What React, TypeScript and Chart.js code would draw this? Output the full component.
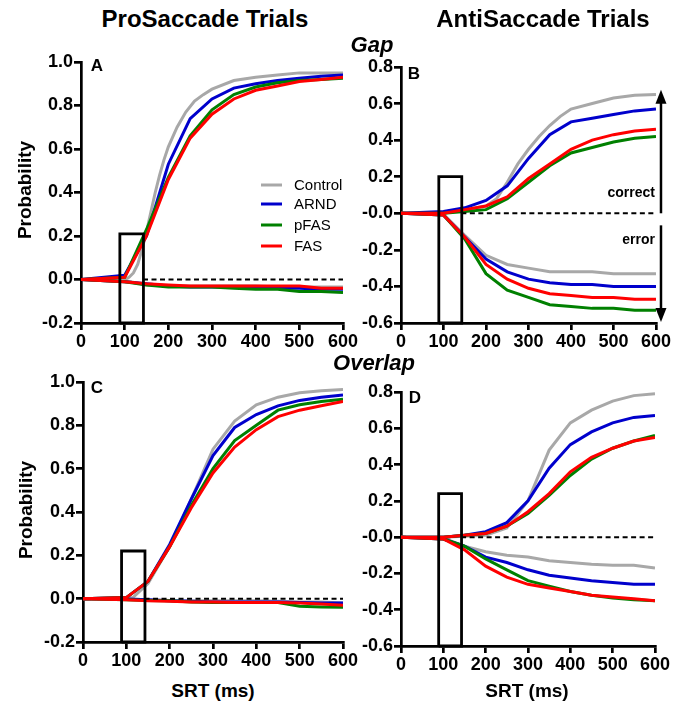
import React, { useEffect, useRef } from "react";
import { Chart, registerables } from "chart.js";
Chart.register(...registerables);

const FONT = '"Liberation Sans", Arial, sans-serif';

// ---- shared data ----
const GROUPS = ["Control", "ARND", "pFAS", "FAS"];
const COLORS = ["#a8a8a8", "#0000cc", "#008000", "#ff0000"];
const SRT_BINS = [0, 100, 150, 200, 250, 300, 350, 400, 450, 500, 550, 600];
const SRT_TICKS = [0, 100, 200, 300, 400, 500, 600];
const BOX_X = [89, 143];
const DASH_X = [142, 600];

// ---- Panel A: ProSaccade, Gap ----
const A_CONTROL_X = [0, 100, 110, 120, 130, 140, 150, 160, 170, 180, 190, 200, 220, 240, 260, 280, 300, 350, 400, 450, 500, 600];
const A_CONTROL = [0, 0.0, 0.01, 0.03, 0.07, 0.14, 0.22, 0.31, 0.4, 0.48, 0.55, 0.61, 0.7, 0.77, 0.82, 0.85, 0.875, 0.915, 0.93, 0.94, 0.95, 0.95];
const A_ARND = [0, 0.02, 0.2, 0.53, 0.74, 0.83, 0.88, 0.9, 0.915, 0.925, 0.935, 0.94];
const A_PFAS = [0, 0.01, 0.23, 0.47, 0.66, 0.78, 0.85, 0.885, 0.905, 0.915, 0.92, 0.925];
const A_FAS = [0, 0.01, 0.2, 0.46, 0.65, 0.76, 0.83, 0.87, 0.89, 0.91, 0.92, 0.93];
const A_CONTROL_ERR = [0, -0.005, -0.025, -0.03, -0.03, -0.03, -0.03, -0.03, -0.035, -0.035, -0.035, -0.035];
const A_ARND_ERR = [0, -0.01, -0.02, -0.03, -0.035, -0.035, -0.035, -0.04, -0.04, -0.04, -0.045, -0.045];
const A_PFAS_ERR = [0, -0.01, -0.025, -0.035, -0.035, -0.035, -0.04, -0.045, -0.045, -0.055, -0.055, -0.06];
const A_FAS_ERR = [0, -0.01, -0.02, -0.025, -0.03, -0.03, -0.03, -0.03, -0.03, -0.03, -0.04, -0.04];
const A_Y_TICKS = [-0.2, 0, 0.2, 0.4, 0.6, 0.8, 1.0];
const A_Y_LABELS = ["-0.2", "0.0", "0.2", "0.4", "0.6", "0.8", "1.0"];
const A_BOX_TOP = 0.21;

// ---- Panel B: AntiSaccade, Gap ----
const B_CONTROL_X = [0, 100, 150, 200, 225, 250, 275, 300, 325, 350, 375, 400, 450, 500, 550, 600];
const B_CONTROL = [0, 0.0, 0.02, 0.04, 0.08, 0.17, 0.27, 0.35, 0.42, 0.48, 0.53, 0.57, 0.6, 0.63, 0.645, 0.65];
const B_ARND = [0, 0.01, 0.03, 0.07, 0.15, 0.3, 0.43, 0.5, 0.52, 0.54, 0.56, 0.57];
const B_PFAS = [0, 0.0, 0.01, 0.02, 0.08, 0.17, 0.26, 0.33, 0.36, 0.39, 0.41, 0.42];
const B_FAS = [0, 0.0, 0.02, 0.04, 0.09, 0.19, 0.27, 0.35, 0.4, 0.43, 0.45, 0.46];
const B_CONTROL_ERR = [0, -0.005, -0.12, -0.23, -0.28, -0.3, -0.32, -0.32, -0.32, -0.33, -0.33, -0.33];
const B_ARND_ERR = [0, -0.01, -0.13, -0.25, -0.32, -0.36, -0.38, -0.39, -0.39, -0.4, -0.4, -0.4];
const B_PFAS_ERR = [0, -0.01, -0.14, -0.33, -0.42, -0.46, -0.5, -0.51, -0.52, -0.52, -0.53, -0.53];
const B_FAS_ERR = [0, -0.01, -0.13, -0.28, -0.36, -0.41, -0.44, -0.45, -0.46, -0.46, -0.47, -0.47];
const B_Y_TICKS = [-0.6, -0.4, -0.2, 0, 0.2, 0.4, 0.6, 0.8];
const B_Y_LABELS = ["-0.6", "-0.4", "-0.2", "-0.0", "0.2", "0.4", "0.6", "0.8"];
const B_BOX_TOP = 0.2;

// ---- Panel C: ProSaccade, Overlap ----
const C_CONTROL_X = [0, 100, 115, 150, 200, 250, 300, 350, 400, 450, 500, 550, 600];
const C_CONTROL = [0, 0, 0.005, 0.07, 0.24, 0.46, 0.69, 0.82, 0.895, 0.93, 0.95, 0.96, 0.965];
const C_ARND = [0, 0.005, 0.08, 0.25, 0.46, 0.66, 0.79, 0.85, 0.89, 0.915, 0.93, 0.94];
const C_PFAS = [0, 0.005, 0.08, 0.24, 0.43, 0.6, 0.73, 0.8, 0.87, 0.895, 0.91, 0.92];
const C_FAS = [0, 0.005, 0.08, 0.24, 0.42, 0.58, 0.7, 0.78, 0.84, 0.87, 0.89, 0.91];
const C_CONTROL_ERR = [0, -0.002, -0.005, -0.008, -0.01, -0.01, -0.01, -0.01, -0.012, -0.015, -0.015, -0.02];
const C_ARND_ERR = [0, -0.002, -0.005, -0.01, -0.012, -0.015, -0.015, -0.015, -0.015, -0.018, -0.02, -0.02];
const C_PFAS_ERR = [0, -0.005, -0.008, -0.01, -0.015, -0.018, -0.018, -0.018, -0.018, -0.035, -0.038, -0.04];
const C_FAS_ERR = [0, -0.005, -0.01, -0.012, -0.015, -0.015, -0.018, -0.018, -0.018, -0.02, -0.025, -0.03];
const C_BOX_TOP = 0.22;

// ---- Panel D: AntiSaccade, Overlap ----
const D_CONTROL = [0, 0, 0.005, 0.01, 0.05, 0.2, 0.48, 0.63, 0.7, 0.75, 0.78, 0.79];
const D_ARND = [0, 0, 0.01, 0.03, 0.08, 0.2, 0.38, 0.51, 0.58, 0.63, 0.66, 0.67];
const D_PFAS = [0, 0, 0.01, 0.02, 0.06, 0.13, 0.23, 0.34, 0.43, 0.49, 0.53, 0.56];
const D_FAS = [0, 0, 0.01, 0.02, 0.06, 0.14, 0.24, 0.36, 0.44, 0.49, 0.53, 0.55];
const D_CONTROL_ERR = [0, -0.005, -0.05, -0.08, -0.1, -0.11, -0.13, -0.14, -0.15, -0.155, -0.155, -0.17];
const D_ARND_ERR = [0, -0.01, -0.05, -0.11, -0.14, -0.18, -0.21, -0.225, -0.24, -0.25, -0.26, -0.26];
const D_PFAS_ERR = [0, -0.01, -0.05, -0.12, -0.18, -0.24, -0.27, -0.3, -0.32, -0.335, -0.345, -0.35];
const D_FAS_ERR = [0, -0.01, -0.07, -0.16, -0.22, -0.26, -0.28, -0.3, -0.32, -0.33, -0.34, -0.35];
const D_BOX_TOP = 0.24;

type Series = { xs: number[]; ys: number[] };
type PanelSpec = {
  key: string;
  yTicks: number[];
  yLabels: string[];
  boxTop: number;
  correct: Series[];
  errors: Series[];
  legend?: boolean;
  arrows?: boolean;
  box: { left: number; top: number; width: number; height: number; yw: number; padTop: number; padRight: number; xh: number };
};

const s = (xs: number[], ys: number[]): Series => ({ xs, ys });

const PANELS: PanelSpec[] = [
  {
    key: "A",
    yTicks: A_Y_TICKS,
    yLabels: A_Y_LABELS,
    boxTop: A_BOX_TOP,
    correct: [s(A_CONTROL_X, A_CONTROL), s(SRT_BINS, A_ARND), s(SRT_BINS, A_PFAS), s(SRT_BINS, A_FAS)],
    errors: [s(SRT_BINS, A_CONTROL_ERR), s(SRT_BINS, A_ARND_ERR), s(SRT_BINS, A_PFAS_ERR), s(SRT_BINS, A_FAS_ERR)],
    legend: true,
    box: { left: 0, top: 50, width: 363, height: 300, yw: 81, padTop: 12, padRight: 20, xh: 27 },
  },
  {
    key: "B",
    yTicks: B_Y_TICKS,
    yLabels: B_Y_LABELS,
    boxTop: B_BOX_TOP,
    correct: [s(B_CONTROL_X, B_CONTROL), s(SRT_BINS, B_ARND), s(SRT_BINS, B_PFAS), s(SRT_BINS, B_FAS)],
    errors: [s(SRT_BINS, B_CONTROL_ERR), s(SRT_BINS, B_ARND_ERR), s(SRT_BINS, B_PFAS_ERR), s(SRT_BINS, B_FAS_ERR)],
    arrows: true,
    box: { left: 340, top: 50, width: 332, height: 300, yw: 61, padTop: 17, padRight: 15, xh: 27 },
  },
  {
    key: "C",
    yTicks: A_Y_TICKS,
    yLabels: A_Y_LABELS,
    boxTop: C_BOX_TOP,
    correct: [s(C_CONTROL_X, C_CONTROL), s(SRT_BINS, C_ARND), s(SRT_BINS, C_PFAS), s(SRT_BINS, C_FAS)],
    errors: [s(SRT_BINS, C_CONTROL_ERR), s(SRT_BINS, C_ARND_ERR), s(SRT_BINS, C_PFAS_ERR), s(SRT_BINS, C_FAS_ERR)],
    box: { left: 0, top: 370, width: 363, height: 299, yw: 83, padTop: 12, padRight: 20, xh: 27 },
  },
  {
    key: "D",
    yTicks: B_Y_TICKS,
    yLabels: B_Y_LABELS,
    boxTop: D_BOX_TOP,
    correct: [s(SRT_BINS, D_CONTROL), s(SRT_BINS, D_ARND), s(SRT_BINS, D_PFAS), s(SRT_BINS, D_FAS)],
    errors: [s(SRT_BINS, D_CONTROL_ERR), s(SRT_BINS, D_ARND_ERR), s(SRT_BINS, D_PFAS_ERR), s(SRT_BINS, D_FAS_ERR)],
    box: { left: 340, top: 375, width: 331, height: 298, yw: 61, padTop: 17, padRight: 15, xh: 27 },
  },
];

const toPts = (se: Series) => se.xs.map((x, i) => ({ x, y: se.ys[i] }));

const legendPlugin = {
  id: "groupLegend",
  afterDraw(chart: any) {
    const ctx = chart.ctx;
    const a = chart.chartArea;
    const x0 = a.left + 180;
    const rows = [123, 142, 163, 184];
    ctx.save();
    ctx.font = `15px ${FONT}`;
    ctx.textBaseline = "middle";
    GROUPS.forEach((g, i) => {
      const y = a.top + rows[i];
      ctx.strokeStyle = COLORS[i];
      ctx.lineWidth = 3;
      ctx.beginPath();
      ctx.moveTo(x0, y);
      ctx.lineTo(x0 + 21, y);
      ctx.stroke();
      ctx.fillStyle = "#000";
      ctx.fillText(g, x0 + 33, y + 1);
    });
    ctx.restore();
  },
};

const arrowPlugin = {
  id: "correctErrorArrows",
  afterDraw(chart: any) {
    const ctx = chart.ctx;
    const a = chart.chartArea;
    const ys = chart.scales.y;
    const x = a.right + 5;
    ctx.save();
    ctx.strokeStyle = "#000";
    ctx.fillStyle = "#000";
    ctx.lineWidth = 2.5;
    const drawArrow = (from: number, to: number) => {
      const y0 = ys.getPixelForValue(from);
      const y1 = ys.getPixelForValue(to);
      const dir = y1 < y0 ? -1 : 1;
      ctx.beginPath();
      ctx.moveTo(x, y0);
      ctx.lineTo(x, y1 - dir * 12);
      ctx.stroke();
      ctx.beginPath();
      ctx.moveTo(x, y1);
      ctx.lineTo(x - 5.5, y1 - dir * 14);
      ctx.lineTo(x + 5.5, y1 - dir * 14);
      ctx.closePath();
      ctx.fill();
    };
    drawArrow(0, 0.675);
    drawArrow(-0.066, -0.595);
    ctx.font = `bold 14px ${FONT}`;
    ctx.textAlign = "right";
    ctx.textBaseline = "middle";
    ctx.fillText("correct", x - 6, ys.getPixelForValue(0.11));
    ctx.fillText("error", x - 6, ys.getPixelForValue(-0.145));
    ctx.restore();
  },
};

function Panel({ spec }: { spec: PanelSpec }) {
  const ref = useRef<HTMLCanvasElement | null>(null);
  useEffect(() => {
    if (!ref.current) return;
    const b = spec.box;
    const yMin = spec.yTicks[0];
    const yMax = spec.yTicks[spec.yTicks.length - 1];
    const datasets: any[] = [];
    const lineDs = (se: Series, i: number) => ({
      data: toPts(se),
      borderColor: COLORS[i],
      backgroundColor: COLORS[i],
      borderWidth: 3,
      pointRadius: 0,
      tension: 0,
      fill: false,
      order: 4 - i + 1,
    });
    spec.correct.forEach((se, i) => datasets.push(lineDs(se, i)));
    spec.errors.forEach((se, i) => datasets.push(lineDs(se, i)));
    datasets.push({
      data: [
        { x: DASH_X[0], y: 0 },
        { x: DASH_X[1], y: 0 },
      ],
      borderColor: "#000",
      borderWidth: 2,
      borderDash: [5, 3.5],
      pointRadius: 0,
      order: 0,
    });
    datasets.push({
      data: [
        { x: BOX_X[0], y: yMin },
        { x: BOX_X[0], y: spec.boxTop },
        { x: BOX_X[1], y: spec.boxTop },
        { x: BOX_X[1], y: yMin },
        { x: BOX_X[0], y: yMin },
      ],
      borderColor: "#000",
      borderWidth: 2.8,
      pointRadius: 0,
      order: 0,
      clip: false,
    });
    const plugins: any[] = [];
    if (spec.legend) plugins.push(legendPlugin);
    if (spec.arrows) plugins.push(arrowPlugin);
    const axisCommon = {
      grid: {
        display: true,
        drawOnChartArea: false,
        drawTicks: true,
        tickLength: 7,
        lineWidth: 2.7,
        tickWidth: 2.7,
        color: "#000",
        tickColor: "#000",
      },
      border: { display: true, color: "#000", width: 2.7 },
    };
    const tickFont = { family: FONT, size: 18, weight: "bold" };
    const chart = new Chart(ref.current, {
      type: "line",
      data: { datasets },
      plugins,
      options: {
        responsive: false,
        animation: false,
        events: [],
        layout: { padding: { top: b.padTop, right: b.padRight, left: 0, bottom: 0 } },
        plugins: { legend: { display: false }, tooltip: { enabled: false } },
        scales: {
          x: {
            type: "linear",
            min: 0,
            max: 600,
            ...axisCommon,
            afterBuildTicks: (sc: any) => {
              sc.ticks = SRT_TICKS.map((v) => ({ value: v }));
            },
            afterFit: (sc: any) => {
              sc.height = b.xh;
            },
            ticks: {
              color: "#000",
              padding: 1,
              maxRotation: 0,
              autoSkip: false,
              font: tickFont,
              callback: (v: any) => String(v),
            },
          },
          y: {
            type: "linear",
            min: yMin,
            max: yMax,
            ...axisCommon,
            afterBuildTicks: (sc: any) => {
              sc.ticks = spec.yTicks.map((v) => ({ value: v }));
            },
            afterFit: (sc: any) => {
              sc.width = b.yw;
            },
            ticks: {
              color: "#000",
              padding: 1,
              autoSkip: false,
              font: tickFont,
              callback: (_v: any, idx: number) => spec.yLabels[idx],
            },
          },
        },
      } as any,
    });
    return () => chart.destroy();
  }, [spec]);
  const b = spec.box;
  return (
    <canvas
      ref={ref}
      width={b.width}
      height={b.height}
      style={{ position: "absolute", left: b.left, top: b.top, width: b.width, height: b.height }}
    />
  );
}

function Txt({ x, y, text, size, italic, rotate, weight }: { x: number; y: number; text: string; size: number; italic?: boolean; rotate?: boolean; weight?: string }) {
  return (
    <div
      style={{
        position: "absolute",
        left: x,
        top: y,
        transform: `translate(-50%, -50%)${rotate ? " rotate(-90deg)" : ""}`,
        fontFamily: FONT,
        fontSize: size,
        fontWeight: (weight || "bold") as any,
        fontStyle: italic ? "italic" : "normal",
        whiteSpace: "nowrap",
        lineHeight: 1,
        color: "#000",
      }}
    >
      {text}
    </div>
  );
}

export default function App() {
  return (
    <div style={{ position: "absolute", left: 0, top: 0, width: 673, height: 703, background: "#fff", overflow: "hidden" }}>
      {PANELS.map((p) => (
        <Panel key={p.key} spec={p} />
      ))}
      <Txt x={205} y={19} text="ProSaccade Trials" size={24} />
      <Txt x={543} y={19} text="AntiSaccade Trials" size={24} />
      <Txt x={372} y={45} text="Gap" size={22} italic />
      <Txt x={374} y={363} text="Overlap" size={22} italic />
      <Txt x={24} y={190} text="Probability" size={19} rotate />
      <Txt x={25} y={510} text="Probability" size={19} rotate />
      <Txt x={213} y={690} text="SRT (ms)" size={19} />
      <Txt x={527} y={690} text="SRT (ms)" size={19} />
      <Txt x={97} y={65} text="A" size={17} />
      <Txt x={414} y={73} text="B" size={17} />
      <Txt x={97} y={387} text="C" size={17} />
      <Txt x={415} y={397} text="D" size={17} />
    </div>
  );
}
